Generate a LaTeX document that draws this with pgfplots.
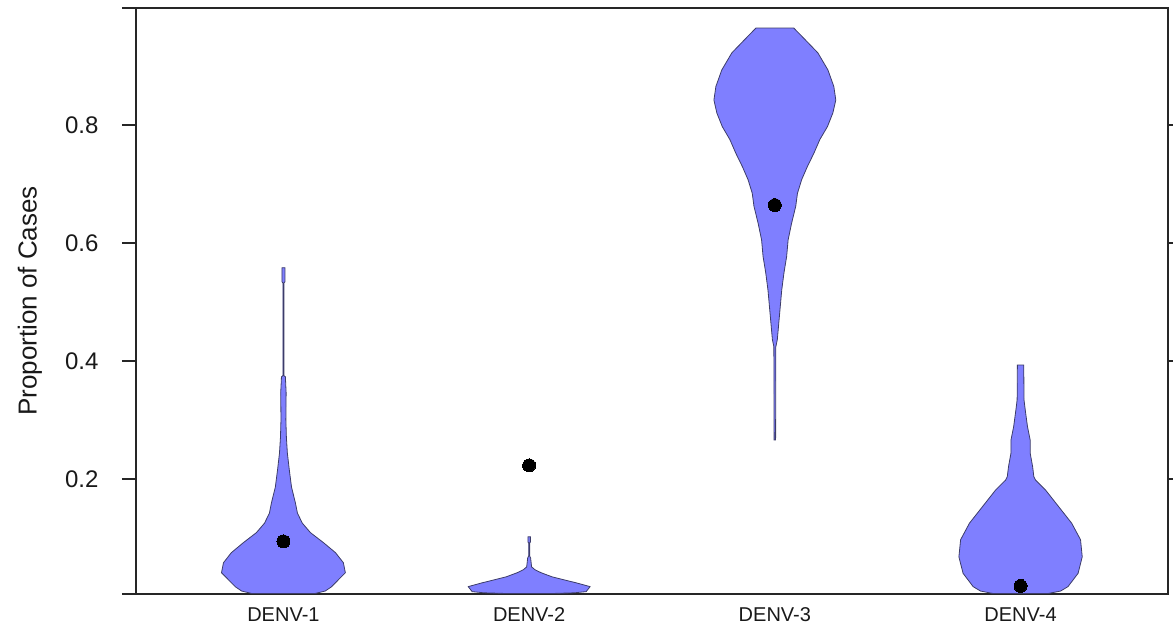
\documentclass[border=0pt]{standalone}
\usepackage{pgfplots}
\pgfplotsset{compat=1.18}
\usepackage{fontspec}
\setmainfont{Liberation Sans}
\definecolor{vfill}{RGB}{127,127,255}
\definecolor{vline}{RGB}{60,60,105}

\pgfplotstableread{
x y
1.130 0.006
1.170 0.010
1.195 0.017
1.252 0.041
1.244 0.058
1.212 0.075
1.163 0.092
1.110 0.109
1.077 0.125
1.057 0.142
1.049 0.159
1.033 0.186
1.024 0.215
1.016 0.244
1.012 0.271
1.010 0.300
1.011 0.346
1.008 0.373
1.002 0.375
1.002 0.532
1.006 0.534
1.006 0.558
0.994 0.558
0.994 0.534
0.998 0.532
0.998 0.375
0.992 0.373
0.989 0.346
0.990 0.300
0.988 0.271
0.984 0.244
0.976 0.215
0.967 0.186
0.951 0.159
0.943 0.142
0.923 0.125
0.890 0.109
0.837 0.092
0.788 0.075
0.756 0.058
0.748 0.041
0.805 0.017
0.830 0.010
0.870 0.006
}\denvone

\pgfplotstableread{
x y
2.106 0.006
2.183 0.007
2.232 0.009
2.248 0.0175
2.191 0.024
2.142 0.029
2.094 0.034
2.049 0.041
2.024 0.046
2.010 0.051
2.006 0.066
2.002 0.0695
2.002 0.0915
2.005 0.093
2.005 0.102
1.995 0.102
1.995 0.093
1.998 0.0915
1.998 0.0695
1.994 0.066
1.990 0.051
1.976 0.046
1.951 0.041
1.906 0.034
1.858 0.029
1.809 0.024
1.752 0.0175
1.768 0.009
1.817 0.007
1.894 0.006
}\denvtwo

\pgfplotstableread{
x y
3.003 0.266
3.004 0.424
3.010 0.436
3.016 0.464
3.022 0.492
3.028 0.520
3.037 0.549
3.048 0.577
3.054 0.605
3.068 0.633
3.085 0.662
3.092 0.684
3.109 0.707
3.132 0.729
3.159 0.752
3.183 0.775
3.214 0.797
3.236 0.820
3.248 0.842
3.240 0.865
3.216 0.893
3.175 0.922
3.110 0.950
3.077 0.964
2.923 0.964
2.890 0.950
2.825 0.922
2.784 0.893
2.760 0.865
2.752 0.842
2.764 0.820
2.786 0.797
2.817 0.775
2.841 0.752
2.868 0.729
2.891 0.707
2.908 0.684
2.915 0.662
2.932 0.633
2.946 0.605
2.952 0.577
2.963 0.549
2.972 0.520
2.978 0.492
2.984 0.464
2.990 0.436
2.996 0.424
2.997 0.266
}\denvthree

\pgfplotstableread{
x y
4.114 0.006
4.163 0.010
4.193 0.0175
4.234 0.040
4.251 0.068
4.244 0.097
4.208 0.125
4.155 0.153
4.102 0.181
4.061 0.198
4.054 0.204
4.049 0.221
4.039 0.244
4.039 0.266
4.028 0.289
4.019 0.317
4.014 0.334
4.013 0.393
3.987 0.393
3.986 0.334
3.981 0.317
3.972 0.289
3.961 0.266
3.961 0.244
3.951 0.221
3.946 0.204
3.939 0.198
3.898 0.181
3.845 0.153
3.792 0.125
3.756 0.097
3.749 0.068
3.766 0.040
3.807 0.0175
3.837 0.010
3.886 0.006
}\denvfour

\begin{document}
\begin{tikzpicture}
\useasboundingbox (-136pt,-43pt) rectangle (1037pt,594pt);
\begin{axis}[
  scale only axis,
  width=1032pt, height=586pt,
  xmin=0.4, xmax=4.6, ymin=0.005, ymax=0.998,
  axis line style={line width=1.4pt, black!85},
  xtick={1,2,3,4},
  xticklabels={DENV-1,DENV-2,DENV-3,DENV-4},
  x tick style={draw=none},
  ytick={0.2,0.4,0.6,0.8},
  yticklabels={0.2,0.4,0.6,0.8},
  extra y ticks={0.005,0.998},
  extra y tick labels={},
  extra y tick style={ytick pos=left},
  tick align=outside,
  major tick length=14pt,
  y tick style={line width=1.4pt, black!85},
  x tick label style={font=\fontsize{20}{22}\selectfont, text=black!90, yshift=4pt},
  y tick label style={font=\fontsize{24}{26}\selectfont, text=black!90, xshift=-20pt},
  ylabel={Proportion of Cases},
  ylabel style={font=\fontsize{26}{28}\selectfont, at={(axis description cs:0,0.5)}, anchor=center, yshift=106pt, text=black!90},
  clip=true,
]
\addplot[fill=vfill, draw=vline, line width=0.8pt] table {\denvone} -- cycle;
\addplot[fill=vfill, draw=vline, line width=0.8pt] table {\denvtwo} -- cycle;
\addplot[fill=vfill, draw=vline, line width=0.8pt] table {\denvthree} -- cycle;
\addplot[fill=vfill, draw=vline, line width=0.8pt] table {\denvfour} -- cycle;
\addplot[only marks, mark=*, mark size=6.5pt, mark options={fill=black, draw=black, line width=0pt}] coordinates {(1,0.094) (2,0.223) (3,0.664) (4,0.0186)};
\end{axis}
\end{tikzpicture}
\end{document}
